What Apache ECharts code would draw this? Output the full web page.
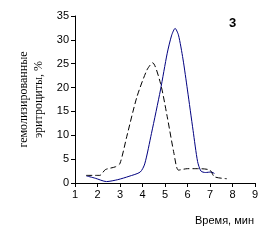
<!DOCTYPE html>
<html>
<head>
<meta charset="utf-8">
<script src="https://cdn.jsdelivr.net/npm/echarts@6/dist/echarts.min.js"></script>
<style>
html, body { margin: 0; padding: 0; background: #fff; }
#chart { width: 261px; height: 249px; }
</style>
</head>
<body>
<div id="chart"></div>
<script>
// данные
var solidX = [1.5, 1.9, 2.4, 2.9, 3.4, 3.9, 4.1, 4.4, 4.8, 5.1, 5.3, 5.45, 5.6, 5.8, 6.0, 6.25, 6.45, 6.6, 6.8, 7.05, 7.2];
var solidY = [1.5, 1.0, 0.3, 0.7, 1.4, 2.3, 4.0, 10.4, 19.5, 27.2, 31.0, 32.4, 31.0, 26.0, 19.5, 11.0, 4.5, 2.5, 2.2, 2.3, 2.0];
var dashX = [1.5, 2.1, 2.35, 2.8, 3.0, 3.3, 3.75, 4.2, 4.45, 4.8, 5.1, 5.4, 5.6, 6.0, 6.5, 7.0, 7.2, 7.75];
var dashY = [1.6, 1.6, 2.8, 3.4, 4.1, 9.7, 18.0, 23.7, 25.2, 20.9, 13.9, 6.2, 2.7, 3.0, 3.0, 2.7, 1.3, 0.9];

function pairs(xs, ys) {
    var out = [];
    for (var i = 0; i < xs.length; i++) out.push([xs[i], ys[i]]);
    return out;
}

var myChart = echarts.init(document.getElementById('chart'));

var option = {
    animation: false,
    grid: { left: 75, right: 6, top: 16, bottom: 66 },
    xAxis: {
        type: 'value',
        min: 1, max: 9, interval: 1,
        splitLine: { show: false },
        axisLine: { lineStyle: { color: '#000', width: 1 } },
        axisTick: { lineStyle: { color: '#000' }, length: 4 },
        axisLabel: { color: '#000', fontFamily: 'Arial', fontSize: 11, margin: 6 }
    },
    yAxis: {
        type: 'value',
        min: 0, max: 35, interval: 5,
        name: 'гемолизированные\nэритроциты, %',
        nameLocation: 'middle',
        nameRotate: 90,
        nameGap: 25,
        nameTextStyle: { color: '#000', fontFamily: '"Liberation Serif", "Times New Roman", serif', fontSize: 12, lineHeight: 15 },
        splitLine: { show: false },
        axisLine: { show: true, lineStyle: { color: '#000', width: 1 } },
        axisTick: { show: true, lineStyle: { color: '#000' }, length: 4 },
        axisLabel: { color: '#000', fontFamily: 'Arial', fontSize: 11, margin: 6 }
    },
    graphic: [
        { type: 'text', left: 229, top: 17, style: { text: '3', font: 'bold 13px Arial', fill: '#000' } },
        { type: 'text', right: 7, top: 215, style: { text: 'Время, мин', font: '11px Arial', fill: '#000' } }
    ],
    series: [{
        type: 'line',
        data: pairs(solidX, solidY),
        smooth: 0.25,
        symbol: 'none',
        lineStyle: { color: '#000080', width: 1 }
    }, {
        type: 'line',
        data: pairs(dashX, dashY),
        smooth: 0.25,
        symbol: 'none',
        lineStyle: { color: '#000', width: 1, type: [6, 3] }
    }]
};

myChart.setOption(option);
</script>
</body>
</html>
